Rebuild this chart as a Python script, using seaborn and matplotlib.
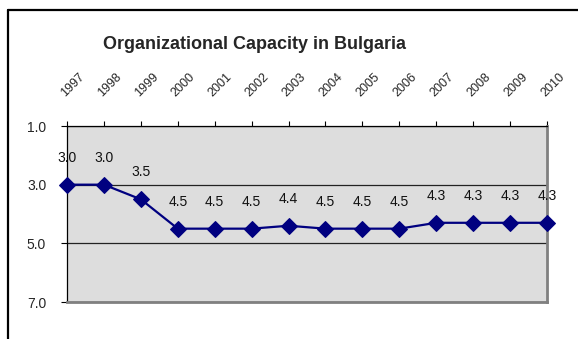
import pandas as pd
import matplotlib.pyplot as plt
from matplotlib.lines import Line2D
import seaborn as sns

# Chart values
years = ["1997", "1998", "1999", "2000", "2001", "2002", "2003",
         "2004", "2005", "2006", "2007", "2008", "2009", "2010"]
scores = [3.0, 3.0, 3.5, 4.5, 4.5, 4.5, 4.4, 4.5, 4.5, 4.5, 4.3, 4.3, 4.3, 4.3]
y_ticks = [1.0, 3.0, 5.0, 7.0]

df = pd.DataFrame({"pos": range(len(years)), "Year": years, "Score": scores})

sns.set_style("white")
plt.rcParams["font.family"] = ["Liberation Sans", "DejaVu Sans"]

fig = plt.figure(figsize=(5.78, 3.39), dpi=100)
ax = fig.add_axes([67 / 578, 1 - 302 / 339, 480 / 578, 176 / 339])
ax.set_facecolor("#dddddd")

sns.lineplot(data=df, x="pos", y="Score", ax=ax, color="#000080", lw=1.6,
             marker="D", markersize=8.5, markeredgecolor="#000080",
             clip_on=False, zorder=3)

for x, v in zip(df["pos"], df["Score"]):
    ax.annotate(f"{v:.1f}", (x, v), xytext=(0, 19.5), textcoords="offset points",
                ha="center", va="center", fontsize=10, color="#111111",
                annotation_clip=False)

ax.set_xlim(0, len(years) - 1)
ax.set_ylim(7, 1)
ax.set_yticks(y_ticks)
ax.set_yticklabels([f"{t:.1f}" for t in y_ticks], fontsize=10)
ax.set_xticks(df["pos"])
ax.set_xticklabels(years, fontsize=9)
ax.xaxis.tick_top()
ax.tick_params(axis="x", top=True, bottom=False, length=3.5, width=0.8,
               color="black", pad=16)
ax.tick_params(axis="y", left=True, length=4, width=0.8, color="black", pad=11)
plt.setp(ax.get_xticklabels(), rotation=45, ha="left", va="bottom",
         rotation_mode="anchor")
ax.set_xlabel("")
ax.set_ylabel("")

ax.yaxis.grid(True, color="#222222", lw=0.9)
ax.set_axisbelow(True)

for side in ["left", "top"]:
    ax.spines[side].set_color("black")
    ax.spines[side].set_linewidth(0.9)
for side in ["right", "bottom"]:
    ax.spines[side].set_color("#808080")
    ax.spines[side].set_linewidth(2)

fig.text(103 / 578, 1 - 49 / 339, "Organizational Capacity in Bulgaria",
         ha="left", va="baseline", fontsize=13, fontweight="bold")

# outer chart border (left and top only visible)
fig.add_artist(Line2D([8 / 578, 8 / 578], [0, 1 - 10 / 339],
                      transform=fig.transFigure, color="black", lw=1.6))
fig.add_artist(Line2D([8 / 578, 1], [1 - 10 / 339, 1 - 10 / 339],
                      transform=fig.transFigure, color="black", lw=1.6))

fig.savefig("out.png", dpi=100)
